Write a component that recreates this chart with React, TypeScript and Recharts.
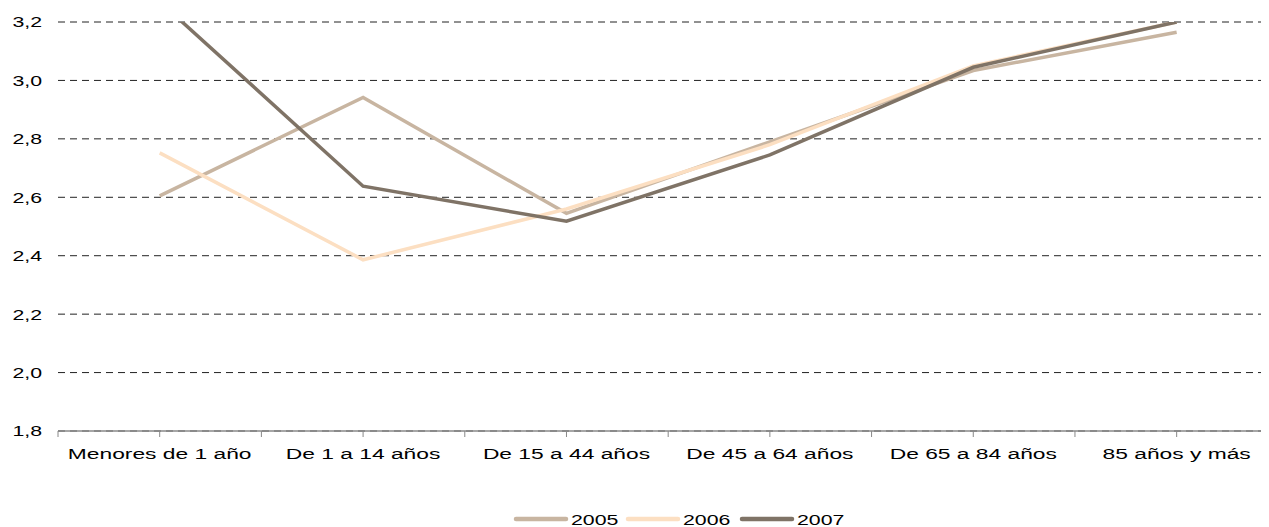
import React from 'react';
import { LineChart, Line, XAxis, YAxis, CartesianGrid, Legend } from 'recharts';

const categories = [
  'Menores de 1 año',
  'De 1 a 14 años',
  'De 15 a 44 años',
  'De 45 a 64 años',
  'De 65 a 84 años',
  '85 años y más',
];

const values2005 = [2.605, 2.942, 2.545, 2.79, 3.034, 3.165];
const values2006 = [2.752, 2.386, 2.56, 2.78, 3.05, 3.2];
const values2007 = [3.27, 2.638, 2.518, 2.745, 3.045, 3.2];

const yTicks = [1.8, 2.0, 2.2, 2.4, 2.6, 2.8, 3.0, 3.2];
// ticks at band centres and band edges
const xTicks = [-0.5, 0, 0.5, 1, 1.5, 2, 2.5, 3, 3.5, 4, 4.5, 5];

const series = [
  { key: 'y2005', name: '2005', color: '#C8B5A1' },
  { key: 'y2006', name: '2006', color: '#FCDFC2' },
  { key: 'y2007', name: '2007', color: '#7F7366' },
];

const data = categories.map((name, i) => ({
  idx: i,
  name,
  y2005: values2005[i],
  y2006: values2006[i],
  y2007: values2007[i],
}));

const FONT = '"Liberation Sans", Arial, sans-serif';
const STRETCH = 1.42;
const X_STRETCH = 1.52;

const XTick = (props: any) => {
  const { x, y, payload } = props;
  const v = payload.value;
  if (!Number.isInteger(v) || v < 0 || v >= categories.length) return null;
  return (
    <g transform={`translate(${x},${y + 9}) scale(${X_STRETCH},1)`}>
      <text x={0} y={0} dy="0.71em" textAnchor="middle" fontSize={15} fontFamily={FONT} fill="#000">
        {categories[v]}
      </text>
    </g>
  );
};

const YTick = (props: any) => {
  const { x, y, payload } = props;
  return (
    <g transform={`translate(${x},${y}) scale(${STRETCH},1)`}>
      <text x={0} y={0} dy="0.36em" textAnchor="end" fontSize={15} fontFamily={FONT} fill="#000">
        {payload.value.toFixed(1).replace('.', ',')}
      </text>
    </g>
  );
};

const LegendBox = () => {
  const starts = [6, 118, 232];
  return (
    <svg width={340} height={20}>
      {series.map((s, i) => (
        <g key={s.key}>
          <line x1={starts[i]} x2={starts[i] + 50} y1={10} y2={10} stroke={s.color} strokeWidth={4.5} strokeLinecap="round" />
          <g transform={`translate(${starts[i] + 55},15.5) scale(${STRETCH},1)`}>
            <text x={0} y={0} fontSize={15} fontFamily={FONT} fill="#000">
              {s.name}
            </text>
          </g>
        </g>
      ))}
    </svg>
  );
};

export default function App() {
  return (
    <LineChart width={1261} height={519} data={data} margin={{ top: 14, right: 0, left: 0, bottom: 0 }}>
      <CartesianGrid vertical={false} stroke="#222" strokeDasharray="7 5" />
      <XAxis
        dataKey="idx"
        type="number"
        domain={[-0.5, 5.454]}
        allowDataOverflow
        ticks={xTicks}
        interval={0}
        height={76}
        tick={<XTick />}
        tickSize={6}
        tickMargin={2}
        stroke="#888"
        axisLine={{ stroke: '#888', strokeWidth: 1.5 }}
        tickLine={{ stroke: '#888' }}
      />
      <YAxis
        domain={[1.8, 3.2]}
        ticks={yTicks}
        allowDataOverflow
        width={50}
        axisLine={false}
        tickLine={false}
        tickSize={0}
        tickMargin={16}
        tick={<YTick />}
      />
      <Legend
        verticalAlign="bottom"
        content={<LegendBox />}
        wrapperStyle={{ left: 502, width: 340, height: 20, bottom: -2 }}
      />
      {series.map((s) => (
        <Line
          key={s.key}
          dataKey={s.key}
          name={s.name}
          type="linear"
          stroke={s.color}
          strokeWidth={3.5}
          dot={false}
          activeDot={false}
          isAnimationActive={false}
        />
      ))}
    </LineChart>
  );
}
